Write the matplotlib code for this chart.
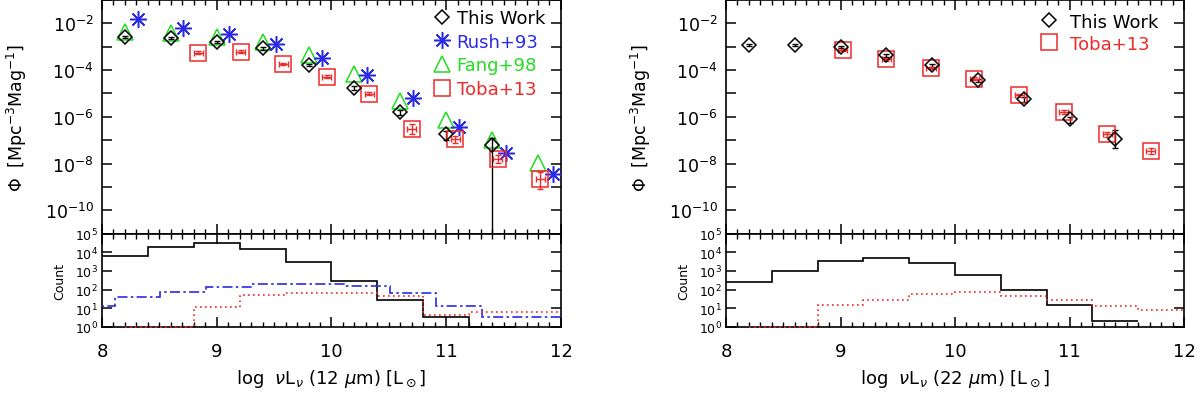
import numpy as np
import matplotlib
matplotlib.use('Agg')
import matplotlib.pyplot as plt
from matplotlib.ticker import FixedLocator, MultipleLocator, FuncFormatter, NullLocator

# ---- 12 micron luminosity function (log phi) ----
lum12_this = [8.2, 8.6, 9.0, 9.4, 9.8, 10.2, 10.6, 11.0, 11.4]
phi12_this = [-2.58, -2.64, -2.78, -3.07, -3.78, -4.78, -5.79, -6.75, -7.22]
err12_this_lo = [0.04, 0.04, 0.04, 0.05, 0.06, 0.08, 0.12, 0.25, 5.0]
err12_this_hi = [0.04, 0.04, 0.04, 0.05, 0.06, 0.08, 0.10, 0.15, 0.33]

lum12_rush = [8.31, 8.71, 9.11, 9.52, 9.92, 10.31, 10.71, 11.11, 11.52, 11.93]
phi12_rush = [-1.80, -2.18, -2.44, -2.90, -3.47, -4.22, -5.18, -6.43, -7.56, -8.46]

lum12_fang = [8.2, 8.6, 9.0, 9.4, 9.8, 10.2, 10.6, 11.0, 11.4, 11.8]
phi12_fang = [-2.36, -2.43, -2.60, -2.81, -3.35, -4.16, -5.31, -6.13, -6.99, -7.96]

lum12_toba = [8.84, 9.21, 9.58, 9.96, 10.33, 10.70, 11.08, 11.45, 11.82]
phi12_toba = [-3.25, -3.21, -3.75, -4.28, -5.01, -6.50, -6.96, -7.79, -8.67]
err12_toba_lo = [0.06, 0.05, 0.05, 0.05, 0.06, 0.22, 0.15, 0.18, 0.42]
err12_toba_hi = [0.06, 0.05, 0.05, 0.05, 0.06, 0.20, 0.15, 0.15, 0.30]

# ---- 22 micron luminosity function (log phi) ----
lum22_this = [8.2, 8.6, 9.0, 9.4, 9.8, 10.2, 10.6, 11.0, 11.4]
phi22_this = [-2.94, -2.94, -3.01, -3.37, -3.80, -4.44, -5.25, -6.11, -6.93]
err22_this_lo = [0.04, 0.04, 0.04, 0.05, 0.06, 0.07, 0.10, 0.14, 0.40]
err22_this_hi = [0.04, 0.04, 0.04, 0.05, 0.06, 0.07, 0.10, 0.12, 0.35]

lum22_toba = [9.02, 9.40, 9.79, 10.17, 10.56, 10.95, 11.33, 11.71]
phi22_toba = [-3.14, -3.54, -3.92, -4.37, -5.08, -5.78, -6.75, -7.46]
err22_toba_lo = [0.05, 0.05, 0.05, 0.06, 0.07, 0.08, 0.10, 0.12]
err22_toba_hi = [0.05, 0.05, 0.05, 0.06, 0.07, 0.08, 0.10, 0.12]

# ---- histograms (counts per bin) ----
edges_this = [8.0, 8.4, 8.8, 9.2, 9.6, 10.0, 10.4, 10.8, 11.2, 11.6]
count12_this = [6600, 18600, 31000, 15000, 2900, 275, 28, 3.2, 1.0]
count22_this = [260, 1050, 3200, 5000, 2800, 630, 97, 14, 2.0]

edges_rush = [7.71, 8.11, 8.51, 8.91, 9.31, 9.71, 10.11, 10.51, 10.91, 11.31, 11.71, 12.11]
count12_rush = [13.5, 41, 77, 144, 195, 210, 160, 65, 12.5, 3.2, 3.2]

edges_toba = [8.2, 8.4, 8.8, 9.2, 9.6, 10.0, 10.4, 10.8, 11.2, 11.6, 12.0]
count12_toba = [1.0, 1.0, 12, 52, 65, 62, 45, 4.2, 6.0, 6.0]
count22_toba = [1.0, 1.0, 15, 29, 54, 72, 47, 28, 12.5, 8.3]

BLUE = '#2a2ae6'
GREEN = '#22dd22'
RED = '#ee2a2a'


def err(phi, lo, hi):
    phi = np.array(phi)
    val = 10 ** phi
    return val, [val - 10 ** (phi - np.array(lo)), 10 ** (phi + np.array(hi)) - val]


def even_decades(v, pos):
    e = int(round(np.log10(v)))
    return r'$10^{%d}$' % e if e % 2 == 0 else ''


def all_decades(v, pos):
    return r'$10^{%d}$' % int(round(np.log10(v)))


def style_x(ax, labels):
    ax.set_xlim(8, 12)
    ax.xaxis.set_major_locator(MultipleLocator(1))
    ax.xaxis.set_minor_locator(MultipleLocator(0.1))
    ax.tick_params(axis='x', which='major', direction='in', top=True, bottom=True, length=7, width=1.1,
                   labelsize=13, labelbottom=labels, pad=11)
    ax.tick_params(axis='x', which='minor', direction='in', top=True, bottom=True, length=3.5, width=1.0)


def top_panel(ax):
    ax.set_yscale('log')
    ax.set_ylim(1e-11, 1e-1)
    ax.yaxis.set_major_locator(FixedLocator([10.0 ** e for e in range(-11, 0)]))
    ax.yaxis.set_minor_locator(NullLocator())
    ax.yaxis.set_major_formatter(FuncFormatter(even_decades))
    ax.tick_params(axis='y', direction='in', left=True, right=True, length=7, width=1.1, labelsize=12.5, pad=6)
    style_x(ax, False)
    ax.set_ylabel(r'$\Phi$  [Mpc$^{-3}$Mag$^{-1}$]', fontsize=12.5, labelpad=11)


def bottom_panel(ax, xlabel):
    ax.set_yscale('log')
    ax.set_ylim(1, 1e5)
    ax.yaxis.set_major_locator(FixedLocator([10.0 ** e for e in range(0, 6)]))
    ax.yaxis.set_minor_locator(NullLocator())
    ax.yaxis.set_major_formatter(FuncFormatter(all_decades))
    ax.tick_params(axis='y', direction='in', left=True, right=True, length=7, width=1.1, labelsize=9, pad=3)
    style_x(ax, True)
    ax.set_ylabel('Count', fontsize=9, labelpad=6)
    ax.set_xlabel(xlabel, fontsize=13, labelpad=5)


def run():
    plt.rcParams['mathtext.fontset'] = 'dejavusans'
    plt.rcParams['axes.linewidth'] = 1.2
    fig = plt.figure(figsize=(12.04, 4.02), dpi=100)
    ax1 = fig.add_axes([0.0847, 0.4162, 0.3812, 0.5813])
    ax1h = fig.add_axes([0.0847, 0.1848, 0.3812, 0.2314])
    ax2 = fig.add_axes([0.6030, 0.4162, 0.3804, 0.5813])
    ax2h = fig.add_axes([0.6030, 0.1848, 0.3804, 0.2314])

    # ---- left, 12 micron ----
    y, e = err(phi12_this, err12_this_lo, err12_this_hi)
    ax1.errorbar(lum12_this, y, yerr=e, fmt='none', ecolor='k', elinewidth=1.0, capsize=2.5, zorder=3)
    h_this, = ax1.plot(lum12_this, y, 'D', ms=7.5, mfc='none', mec='k', mew=1.1, ls='none', label='This Work', zorder=4)
    h_rush, = ax1.plot(lum12_rush, 10 ** np.array(phi12_rush), marker=(8, 2, 0), ms=12, mec=BLUE, mew=1.1,
                       ls='none', label='Rush+93', zorder=3)
    h_fang, = ax1.plot(lum12_fang, 10 ** np.array(phi12_fang), '^', ms=11.5, mfc='none', mec=GREEN, mew=1.1,
                       ls='none', label='Fang+98', zorder=2)
    y, e = err(phi12_toba, err12_toba_lo, err12_toba_hi)
    ax1.errorbar(lum12_toba, y, yerr=e, xerr=0.04, fmt='none', ecolor=RED, elinewidth=1.0, capsize=2.5, zorder=3)
    h_toba, = ax1.plot(lum12_toba, y, 's', ms=11.5, mfc='none', mec=RED, mew=1.1, ls='none', label='Toba+13', zorder=3)
    top_panel(ax1)
    ax1.legend(handles=[h_this, h_rush, h_fang, h_toba], loc='upper right', bbox_to_anchor=(0.985, 1.0),
               frameon=False, fontsize=13, labelcolor=['k', BLUE, GREEN, RED], handlelength=1.0,
               handletextpad=0.3, labelspacing=0.31, borderaxespad=0.0, borderpad=0.5)

    ax1h.stairs(count12_this, edges_this, baseline=None, color='k', lw=1.2, clip_on=False, zorder=3)
    ax1h.stairs(count12_rush, edges_rush, baseline=None, color=BLUE, lw=1.2, ls=(0, (6, 2, 1.5, 2)), zorder=3)
    ax1h.stairs(count12_toba, edges_toba, baseline=None, color=RED, lw=1.2, ls=(0, (1, 2)), clip_on=False, zorder=3)
    bottom_panel(ax1h, r'log  $\nu$L$_\nu$ (12 $\mu$m) [L$_\odot$]')

    # ---- right, 22 micron ----
    y, e = err(phi22_this, err22_this_lo, err22_this_hi)
    ax2.errorbar(lum22_this, y, yerr=e, fmt='none', ecolor='k', elinewidth=1.0, capsize=2.5, zorder=3)
    h_this, = ax2.plot(lum22_this, y, 'D', ms=7.5, mfc='none', mec='k', mew=1.1, ls='none', label='This Work', zorder=4)
    y, e = err(phi22_toba, err22_toba_lo, err22_toba_hi)
    ax2.errorbar(lum22_toba, y, yerr=e, xerr=0.04, fmt='none', ecolor=RED, elinewidth=1.0, capsize=2.5, zorder=3)
    h_toba, = ax2.plot(lum22_toba, y, 's', ms=11.5, mfc='none', mec=RED, mew=1.1, ls='none', label='Toba+13', zorder=3)
    top_panel(ax2)
    ax2.legend(handles=[h_this, h_toba], loc='upper right', bbox_to_anchor=(0.971, 1.0),
               frameon=False, fontsize=13, labelcolor=['k', RED], handlelength=1.6,
               handletextpad=0.36, labelspacing=0.22, borderaxespad=0.0, borderpad=0.7)

    ax2h.stairs(count22_this, edges_this, baseline=None, color='k', lw=1.2, clip_on=False, zorder=3)
    ax2h.stairs(count22_toba, edges_toba, baseline=None, color=RED, lw=1.2, ls=(0, (1, 2)), clip_on=False, zorder=3)
    bottom_panel(ax2h, r'log  $\nu$L$_\nu$ (22 $\mu$m) [L$_\odot$]')

    fig.savefig('out.png', dpi=100)
    plt.close(fig)


if __name__ == '__main__':
    run()
